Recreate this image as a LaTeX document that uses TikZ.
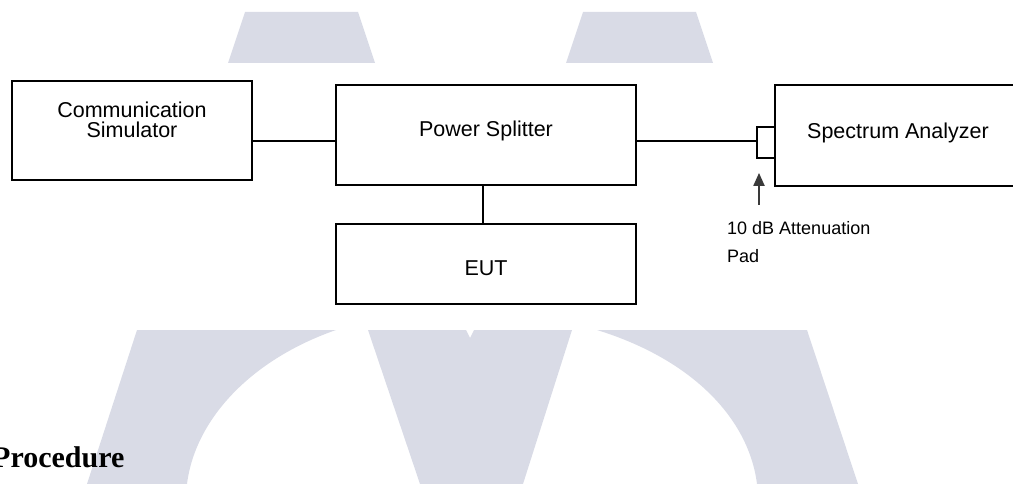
\documentclass[tikz,border=0pt]{standalone}
\usepackage{fontspec}
\setmainfont{Liberation Sans}
\newfontfamily\procfont{Liberation Serif}
\usetikzlibrary{arrows.meta,positioning,calc}
\definecolor{wmark}{RGB}{217,219,230}
\definecolor{inkgray}{RGB}{58,58,58}

\begin{document}
\begin{tikzpicture}[x=1pt, y=-1pt,
	unit/.style={draw=black, line width=1.8pt, inner sep=0pt},
	wire/.style={black, line width=1.8pt},
	tagtext/.style={font=\fontsize{21.5}{20}\selectfont, align=center, inner sep=0pt},
	notetext/.style={font=\fontsize{18}{28.4}\selectfont, align=left, inner sep=0pt},
	pointer/.style={inkgray, line width=2pt, -{Triangle[length=13pt,width=11pt]}}]
		\useasboundingbox (0,0) rectangle (1013,484);
		% watermark behind the set-up
		\begin{scope}[fill=wmark]
			\fill (245,12) -- (358,12) -- (375,63) -- (228,63) -- cycle;
			\fill (583,12) -- (696,12) -- (713,63) -- (566,63) -- cycle;
			\fill (137,330) -- (336,330) .. controls (250,360) and (195,420) .. (187,484) -- (87,484) -- cycle;
			\fill (368,330) -- (466,330) -- (470,338) -- (474,330) -- (572,330) -- (523,484) -- (420,484) -- cycle;
			\fill (597,330) .. controls (694,360) and (749,420) .. (757,484) -- (858,484) -- (807,330) -- cycle;
		\end{scope}

		\node (cs) at (132,130.5) [unit, minimum width=240, minimum height=99, label={[tagtext, yshift=10.5pt]center:Communication\\Simulator}] {};
		\node (ps) at (486,135) [unit, minimum width=300, minimum height=100, label={[tagtext, yshift=3.9pt]center:Power Splitter}] {};
		\node (eut) at (486,264) [unit, minimum width=300, minimum height=80, label={[tagtext, yshift=-4pt]center:EUT}] {};
		\node (sa) at (898,135.5) [unit, minimum width=246, minimum height=101, label={[tagtext, yshift=2.8pt]center:Spectrum Analyzer}] {};
		\node (pad) at (766,142.5) [unit, minimum width=18, minimum height=31] {};

		\draw [wire] ([yshift=-6pt]ps.west) -- ([yshift=-6pt]ps.west -| cs.east);
		\draw [wire] ([yshift=-6pt]ps.east) -- ([yshift=-6pt]ps.east -| pad.west);
		\draw [wire] ([xshift=-3pt]ps.south) -- ([xshift=-3pt]eut.north);

		\coordinate (padtail) at (759,205);
		\draw [pointer, shorten >=14pt] (padtail) -- (padtail |- pad.south);
		\node (padnote) at (727,221.2) [notetext, anchor=north west] {10 dB Attenuation\\Pad};

		\node (proc) at (-8,467) [anchor=base west, inner sep=0pt, font=\procfont\bfseries\fontsize{30}{36}\selectfont] {Procedure};
	\end{tikzpicture}
\end{document}
